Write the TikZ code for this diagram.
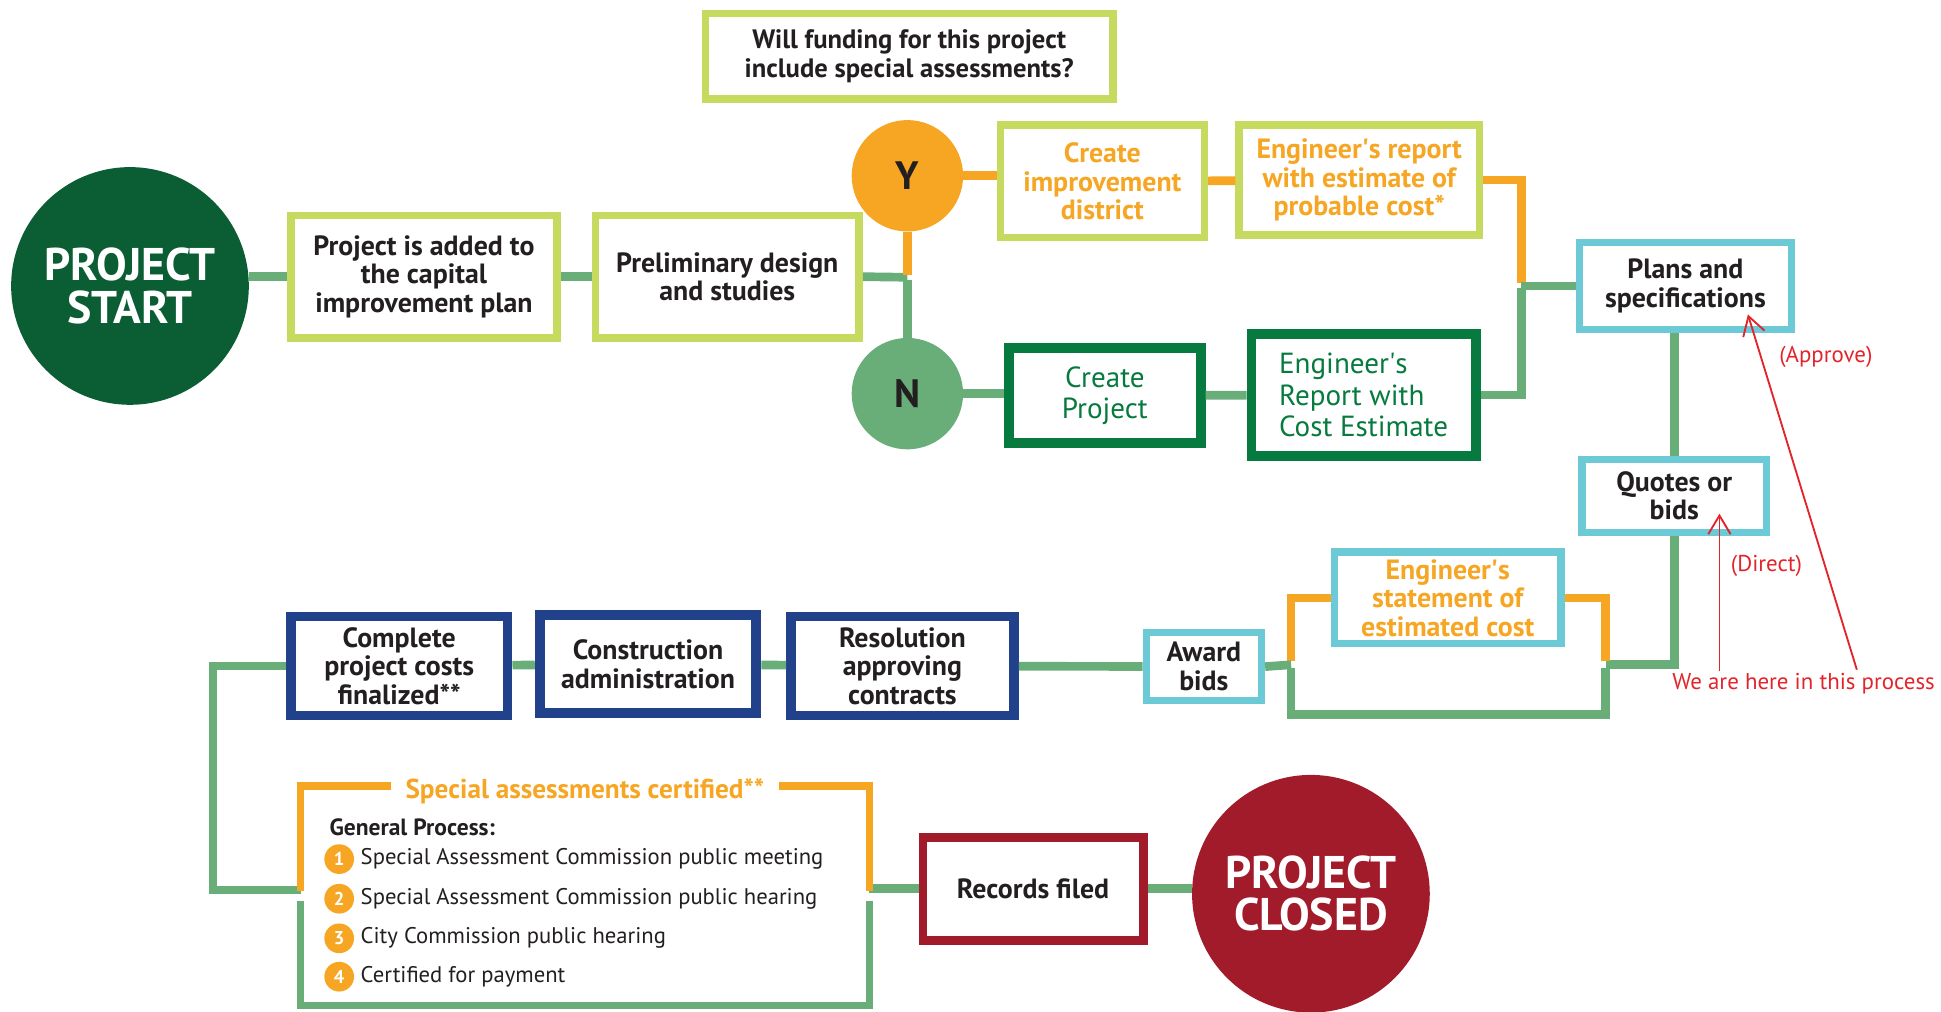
\documentclass[tikz,border=0pt]{standalone}
\usepackage{fontspec}
\setmainfont{PT Sans}
\usetikzlibrary{arrows.meta,positioning}
\definecolor{inkBlack}{HTML}{231F20}
\definecolor{startGreen}{HTML}{0B5E34}
\definecolor{limeGreen}{HTML}{C5DA5F}
\definecolor{ansOrange}{HTML}{F6A623}
\definecolor{linkGreen}{HTML}{69AE79}
\definecolor{projGreen}{HTML}{077B3F}
\definecolor{bidCyan}{HTML}{6BCAD5}
\definecolor{navyBlue}{HTML}{21418B}
\definecolor{closeRed}{HTML}{A21B2B}
\definecolor{noteRed}{HTML}{E3242B}

\begin{document}
\begin{tikzpicture}
[x=1pt, y=-1pt,
 boxDecorate/.style={shape=rectangle, inner sep=2pt, align=center, fill=white, text=inkBlack, font=\fontsize{22.5}{23}\selectfont\bfseries},
 limeDecorate/.style={boxDecorate, draw=limeGreen, line width=6pt},
 cyanDecorate/.style={boxDecorate, draw=bidCyan, line width=6pt},
 navyDecorate/.style={boxDecorate, draw=navyBlue, line width=8pt},
 projDecorate/.style={boxDecorate, draw=projGreen, line width=8pt, text=projGreen, font=\fontsize{23.5}{25.5}\selectfont},
 redDecorate/.style={boxDecorate, draw=closeRed, line width=7pt},
 bigDecorate/.style={shape=circle, inner sep=0pt, minimum size=192pt, align=center, text=white, font=\fontsize{37}{34}\selectfont\bfseries},
 forkDecorate/.style={shape=circle, inner sep=0pt, minimum size=90pt, text=inkBlack, font=\fontsize{32}{32}\selectfont\bfseries},
 dotDecorate/.style={shape=circle, inner sep=0pt, minimum size=24pt, fill=ansOrange, text=white, font=\fontsize{15}{15}\selectfont\bfseries},
 itemDecorate/.style={inner sep=1pt, text=inkBlack, font=\fontsize{18.3}{20}\selectfont},
 noteDecorate/.style={inner sep=1pt, text=noteRed, font=\fontsize{18.5}{20}\selectfont},
 greenLine/.style={draw=linkGreen, line width=7pt},
 orangeLine/.style={draw=ansOrange, line width=7pt},
 noteArrow/.style={draw=noteRed, line width=1.5pt, -{Straight Barb[length=15pt,width=18pt,line width=1.5pt]}}]

\useasboundingbox (0,0) rectangle (1568,817);

% top row
\node (start) at (105,231) [bigDecorate, fill=startGreen] {PROJECT\\START};
\node (plan) at (342.5,223.5) [limeDecorate, minimum width=215pt, minimum height=99pt] {Project is added to\\the capital\\improvement plan};
\node (design) at (587.5,223.5) [limeDecorate, minimum width=213pt, minimum height=99pt] {Preliminary design\\and studies};
\node (question) at (734.5,45.5) [limeDecorate, minimum width=329pt, minimum height=69pt, font=\fontsize{21.5}{23}\selectfont\bfseries] {Will funding for this project\\include special assessments?};

\node (yes) at (733,142) [forkDecorate, fill=ansOrange] {Y};
\node (no) at (733,318) [forkDecorate, fill=linkGreen] {N};
\coordinate (fork) at (733,224);

\node (district) at (890.5,146.5) [limeDecorate, minimum width=165pt, minimum height=91pt, text=ansOrange] {Create\\improvement\\district};
\node (reportYes) at (1098,145.5) [limeDecorate, minimum width=194pt, minimum height=89pt, text=ansOrange] {Engineer\textquotesingle s report\\with estimate of\\probable cost*};
\node (createProj) at (892.5,319.5) [projDecorate, minimum width=155pt, minimum height=77pt] {Create\\Project};
\node (reportNo) at (1101.5,319) [projDecorate, minimum width=181pt, minimum height=98pt, align=left] {Engineer\textquotesingle s\\Report with\\Cost Estimate};
\coordinate (merge) at (1229,231);

\node (plans) at (1361.5,231) [cyanDecorate, minimum width=171pt, minimum height=70pt] {Plans and\\specifications};
\node (quotes) at (1352.5,400.5) [cyanDecorate, minimum width=149pt, minimum height=59pt] {Quotes or\\bids};

% middle row
\node (statement) at (1169.5,483) [cyanDecorate, minimum width=183pt, minimum height=74pt, text=ansOrange] {Engineer\textquotesingle s\\statement of\\estimated cost};
\node (award) at (972.5,538.5) [cyanDecorate, minimum width=93pt, minimum height=55pt] {Award\\bids};
\coordinate (bypassL) at (1043,537);
\coordinate (bypassR) at (1297,537);
\coordinate (bypassB) at (1170,577);
\node (resolution) at (729,538) [navyDecorate, minimum width=180pt, minimum height=80pt] {Resolution\\approving\\contracts};
\node (construction) at (523.5,536.5) [navyDecorate, minimum width=175pt, minimum height=79pt] {Construction\\administration};
\node (complete) at (322.5,538) [navyDecorate, minimum width=175pt, minimum height=80pt] {Complete\\project costs\\finalized**};
\coordinate (loopL) at (172,719);

% bottom row
\node (special) at (472.5,723.5) [minimum width=459pt, minimum height=177pt] {};
\node (records) at (834.5,718) [redDecorate, minimum width=178pt, minimum height=83pt] {Records filed};
\node (closed) at (1059,722) [bigDecorate, fill=closeRed] {PROJECT\\CLOSED};

% connectors
\draw[greenLine] (plan.west) -- (plan.west -| start.east);
\draw[greenLine] (plan) -- (design);
\draw[greenLine] (design.east) -- (fork);
\draw[orangeLine] (yes.south) -- ([yshift=2pt]fork);
\draw[greenLine] ([yshift=-2pt]fork) -- (no.north);
\draw[orangeLine] (yes.east) -- (yes.east -| district.west);
\draw[orangeLine] (district) -- (reportYes);
\draw[orangeLine] (reportYes.east) -| ([yshift=2pt]merge);
\draw[greenLine] (no.east) -- (no.east -| createProj.west);
\draw[greenLine] (createProj) -- (reportNo);
\draw[greenLine] (reportNo.east) -| ([yshift=-2pt]merge);
\draw[greenLine] (merge) -- (plans.west);
\draw[greenLine] (quotes.north) -- (quotes.north |- plans.south);
\draw[greenLine] (quotes.south) |- (bypassR);
\draw[orangeLine] ([yshift=3pt]bypassL) |- (statement.west);
\draw[orangeLine] (statement.east) -| ([yshift=3pt]bypassR);
\draw[greenLine] ([yshift=-3pt]bypassL) |- (bypassB) -| ([yshift=-3pt]bypassR);
\draw[greenLine] (award.east) -- (bypassL);
\path
\foreach \startnode/\endnode in {resolution/award,construction/resolution,complete/construction}
        {
          (\startnode) edge[greenLine] (\endnode)
        };
\draw[greenLine] (complete.west) -| (loopL) -- (loopL -| special.west);
\draw[greenLine] (special.east |- records.west) -- (records.west);
\draw[greenLine] (records.east) -- (records.east -| closed.west);

% special assessments box
\draw[orangeLine, line width=6pt] ([yshift=4pt]special.west) -- (special.north west) -- (special.north east) -- ([yshift=4pt]special.east);
\draw[greenLine, line width=6pt] ([yshift=-4pt]special.west) -- (special.south west) -- (special.south east) -- ([yshift=-4pt]special.east);
\node (specialTitle) at ([yshift=-4pt]special.north) [fill=white, inner xsep=12pt, inner ysep=2pt, text=ansOrange, font=\fontsize{22}{22}\selectfont\bfseries] {Special assessments certified**};
\node (general) at (265,668) [anchor=west, itemDecorate, font=\fontsize{19}{20}\selectfont\bfseries] {General Process:};
\foreach \i/\y/\txt in {1/694/Special Assessment Commission public meeting,
                        2/726/Special Assessment Commission public hearing,
                        3/758/City Commission public hearing,
                        4/789/Certified for payment}
 {
  \node (dot\i) at (274,\y) [dotDecorate] {\i};
  \node (item\i) [itemDecorate, right=4pt of dot\i] {\txt};
 }

% notes
\node (hereNote) at (1457,552) [noteDecorate] {We are here in this process};
\node (approveNote) at (1475,288) [noteDecorate] {(Approve)};
\node (directNote) at (1427,457) [noteDecorate] {(Direct)};
\coordinate (directTip) at (1389,415);
\coordinate (approveTip) at (1412,254);
\coordinate (approveTail) at (1500,541);
\draw[noteArrow] (hereNote.north -| directTip) -- (directTip);
\draw[noteArrow] (approveTail) -- (approveTip);

\end{tikzpicture}
\end{document}
